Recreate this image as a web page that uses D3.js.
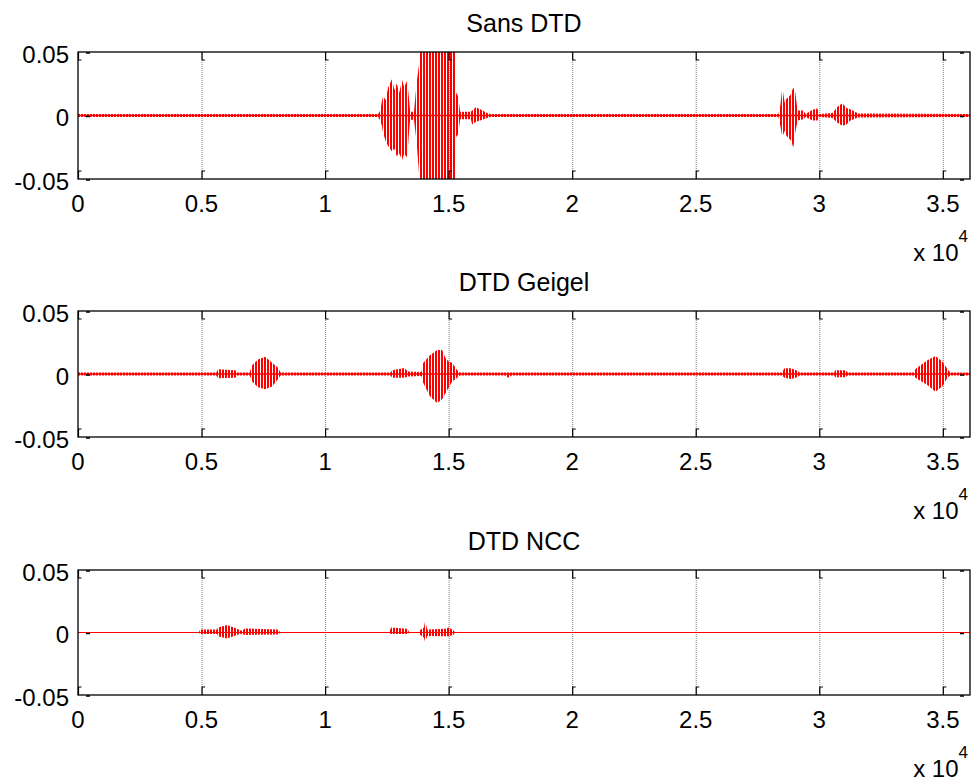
<!DOCTYPE html>
<html>
<head>
<meta charset="utf-8">
<script src="https://cdn.jsdelivr.net/npm/d3@7"></script>
<style>
  body { margin: 0; background: #fff; }
  text { font-family: "Liberation Sans", Arial, sans-serif; fill: #000; }
</style>
</head>
<body>
<div id="chart"></div>
<script>
// envelope of each signal: [sample, upper, lower]
const sansDtd = [
  [0, 0.0012, -0.0012], [12150, 0.0012, -0.0012], [12230, 0.004, -0.004],
  [12300, 0.011, -0.008], [12350, 0.0157, -0.014], [12450, 0.012, -0.02],
  [12550, 0.022, -0.024], [12714, 0.029, -0.0285], [12800, 0.02, -0.026],
  [12900, 0.025, -0.032], [13000, 0.018, -0.03], [13119, 0.028, -0.035],
  [13200, 0.022, -0.03], [13321, 0.0276, -0.033], [13400, 0.012, -0.012],
  [13443, 0.003, -0.003], [13600, 0.003, -0.004], [13700, 0.025, -0.02],
  [13800, 0.04, -0.045], [13848, 0.05, -0.05], [15265, 0.05, -0.05],
  [15300, 0.018, -0.017], [15386, 0.015, -0.015], [15467, 0.003, -0.003],
  [15900, 0.003, -0.003], [15953, 0.004, -0.007], [16100, 0.0065, -0.005],
  [16277, 0.005, -0.004], [16560, 0.002, -0.002], [16700, 0.0012, -0.0012],
  [28350, 0.0012, -0.0012], [28424, 0.008, -0.008], [28505, 0.0223, -0.0171],
  [28600, 0.01, -0.012], [28667, 0.013, -0.016], [28829, 0.016, -0.019],
  [28950, 0.022, -0.025], [29031, 0.018, -0.013], [29120, 0.004, -0.004],
  [29355, 0.004, -0.003], [29450, 0.0012, -0.0012], [29720, 0.0045, -0.004],
  [29922, 0.0055, -0.004], [30000, 0.0012, -0.0012], [30529, 0.002, -0.002],
  [30750, 0.007, -0.006], [30934, 0.0097, -0.008], [31100, 0.006, -0.007],
  [31258, 0.005, -0.004], [31582, 0.0015, -0.0015], [36100, 0.0012, -0.0012],
];

const dtdGeigel = [
  [0, 0.0012, -0.0012], [5600, 0.0012, -0.0012], [5669, 0.0037, -0.0034],
  [6357, 0.003, -0.003], [6450, 0.0012, -0.0012], [6950, 0.0012, -0.0012],
  [7045, 0.007, -0.006], [7288, 0.0115, -0.0105], [7572, 0.0137, -0.0122],
  [7855, 0.009, -0.01], [8098, 0.005, -0.004], [8200, 0.0012, -0.0012],
  [12650, 0.0012, -0.0012], [12714, 0.003, -0.003], [13200, 0.0048, -0.003],
  [13362, 0.002, -0.002], [13900, 0.0015, -0.0015], [13969, 0.0087, -0.007],
  [14253, 0.015, -0.018], [14536, 0.019, -0.023], [14738, 0.019, -0.02],
  [14860, 0.013, -0.0157], [15000, 0.01, -0.011], [15143, 0.009, -0.006],
  [15346, 0.003, -0.003], [15450, 0.0012, -0.0012], [17300, 0.0012, -0.0012],
  [17411, 0.0012, -0.003], [17550, 0.0012, -0.0012], [28500, 0.0012, -0.0012],
  [28586, 0.0045, -0.003], [28850, 0.0045, -0.004], [29112, 0.0025, -0.0025],
  [29200, 0.0012, -0.0012], [30600, 0.0012, -0.0012], [30651, 0.003, -0.0026],
  [31056, 0.003, -0.0026], [31150, 0.0012, -0.0012], [33850, 0.0012, -0.0012],
  [33890, 0.004, -0.003], [34376, 0.011, -0.0087], [34700, 0.0143, -0.014],
  [34983, 0.01, -0.01], [35186, 0.004, -0.003], [35300, 0.0012, -0.0012],
  [36100, 0.0012, -0.0012],
];

const dtdNcc = [
  [0, 0.0004, -0.0004], [4900, 0.0004, -0.0004], [4940, 0.0025, -0.0012],
  [5628, 0.0025, -0.0012], [5669, 0.004, -0.003], [6033, 0.006, -0.0047],
  [6438, 0.003, -0.002], [6600, 0.0015, -0.001], [6762, 0.0033, -0.002],
  [8098, 0.0025, -0.0015], [8179, 0.0004, -0.0004], [12600, 0.0004, -0.0004],
  [12673, 0.004, -0.0012], [13321, 0.003, -0.0012], [13400, 0.0004, -0.0004],
  [13800, 0.0004, -0.0004], [13848, 0.002, -0.002], [14000, 0.004, -0.004],
  [14050, 0.0094, -0.008], [14131, 0.0025, -0.0028], [14860, 0.003, -0.003],
  [15000, 0.004, -0.003], [15184, 0.002, -0.002], [15250, 0.0004, -0.0004],
  [36100, 0.0004, -0.0004],
];

const titles = ['Sans DTD', 'DTD Geigel', 'DTD NCC'];
const xTicks = [0, 5000, 10000, 15000, 20000, 25000, 30000, 35000];
const yTicks = [-0.05, 0, 0.05];
const xMax = 36100;

const panels = [
  { title: titles[0], data: sansDtd, top: 52, height: 127, zeroWidth: 1.5 },
  { title: titles[1], data: dtdGeigel, top: 311, height: 126, zeroWidth: 1.5 },
  { title: titles[2], data: dtdNcc, top: 570, height: 125, zeroWidth: 1.1 },
];

const margin = { left: 78 };
const width = 892;

const svg = d3.select('#chart').append('svg')
    .attr('width', 971)
    .attr('height', 782);

// dense oscillation look: thin vertical red strokes
const defs = svg.append('defs');
defs.append('pattern')
    .attr('id', 'osc')
    .attr('patternUnits', 'userSpaceOnUse')
    .attr('width', 3)
    .attr('height', 4)
  .append('rect')
    .attr('width', 2)
    .attr('height', 4)
    .attr('fill', '#ff0000');

const x = d3.scaleLinear().domain([0, xMax]).range([0, width]);

panels.forEach((p, i) => {
  const y = d3.scaleLinear().domain([-0.05, 0.05]).range([p.height, 0]);

  const g = svg.append('g')
      .attr('transform', `translate(${margin.left}, ${p.top})`);

  defs.append('clipPath')
      .attr('id', `clip${i}`)
    .append('rect')
      .attr('width', width)
      .attr('height', p.height);

  // dotted grid
  g.append('g')
      .attr('class', 'grid')
      .attr('transform', `translate(0, ${p.height})`)
      .call(d3.axisBottom(x).tickValues(xTicks.slice(1)).tickSize(-p.height).tickFormat(''))
      .call(s => s.select('.domain').remove())
      .selectAll('line')
        .attr('stroke', '#808080')
        .attr('stroke-width', 1)
        .attr('stroke-dasharray', '1,1');

  const plot = g.append('g').attr('clip-path', `url(#clip${i})`);

  plot.append('path')
      .datum(p.data)
      .attr('fill', 'url(#osc)')
      .attr('d', d3.area()
        .x(d => x(d[0]))
        .y0(d => y(d[2]))
        .y1(d => y(d[1])));

  plot.append('line')
      .attr('x1', 0)
      .attr('x2', width)
      .attr('y1', y(0))
      .attr('y2', y(0))
      .attr('stroke', '#ff0000')
      .attr('stroke-width', p.zeroWidth);

  // box
  g.append('rect')
      .attr('width', width)
      .attr('height', p.height)
      .attr('fill', 'none')
      .attr('stroke', '#000')
      .attr('stroke-width', 1.3);

  // inward x ticks ("[" marks)
  g.selectAll('.xtick')
      .data(xTicks)
    .enter().append('path')
      .attr('class', 'xtick')
      .attr('fill', 'none')
      .attr('stroke', '#000')
      .attr('stroke-width', 1.2)
      .attr('d', d => `M${x(d) + 0.5},0V8H${x(d) + 3.5}M${x(d) + 0.5},${p.height}V${p.height - 8}H${x(d) + 3.5}`);

  // y ticks, left and right
  g.selectAll('.ytick')
      .data(yTicks)
    .enter().append('path')
      .attr('class', 'ytick')
      .attr('stroke', '#000')
      .attr('stroke-width', 1.5)
      .attr('d', d => `M8,${y(d) + 1}H12M${width - 10},${y(d) + 1}H${width - 6}`);

  g.selectAll('.ylabel')
      .data(yTicks)
    .enter().append('text')
      .attr('class', 'ylabel')
      .attr('x', -9)
      .attr('y', d => y(d) + 2)
      .attr('dominant-baseline', 'central')
      .attr('text-anchor', 'end')
      .style('font-size', '24px')
      .text(d => (d === 0 ? '0' : d.toFixed(2)));

  g.selectAll('.xlabel')
      .data(xTicks)
    .enter().append('text')
      .attr('class', 'xlabel')
      .attr('x', d => x(d))
      .attr('y', p.height + 33)
      .attr('text-anchor', 'middle')
      .style('font-size', '24px')
      .text(d => d / 1e4);

  const exp = g.append('text')
      .attr('x', 890)
      .attr('y', p.height + 82)
      .attr('text-anchor', 'end')
      .style('font-size', '24px')
      .text('x 10');
  exp.append('tspan')
      .attr('dy', -19)
      .style('font-size', '17px')
      .text('4');

  g.append('text')
      .attr('x', width / 2)
      .attr('y', -20)
      .attr('text-anchor', 'middle')
      .style('font-size', '25px')
      .text(p.title);
});
</script>
</body>
</html>
